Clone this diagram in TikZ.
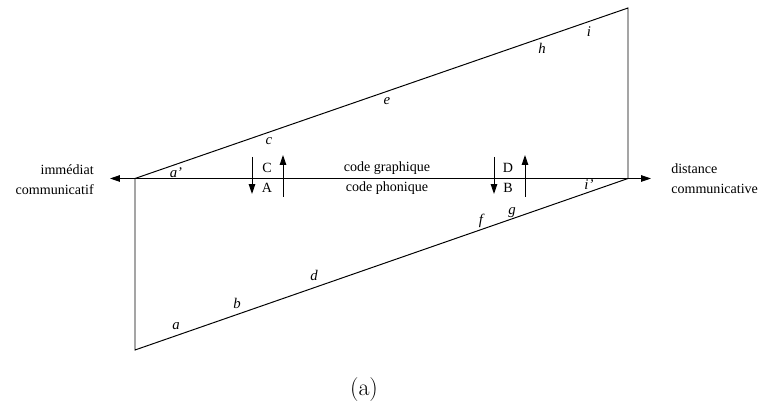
\documentclass[tikz,border=0pt]{standalone}
\usepackage{fontspec}
\newfontfamily\timesfont{Liberation Serif}
\usetikzlibrary{
  positioning,
  arrows.meta
}

\begin{document}
\begin{tikzpicture}[
  x=0.025cm, y=-0.025cm,
  edge/.style={line width=0.7pt},
  arrow/.style={-{Triangle[length=7pt, width=4.6pt]}, line width=0.7pt},
  side/.style={font=\timesfont\fontsize{10}{14}\selectfont, inner sep=0pt},
  code/.style={font=\timesfont\fontsize{10}{12}\selectfont, inner sep=0pt},
  letter/.style={font=\timesfont\itshape\fontsize{10.5}{12}\selectfont, inner sep=0pt},
  caption/.style={font=\fontsize{17}{20}\selectfont, inner sep=0pt}
]

% Background / frame
\useasboundingbox (0,0) rectangle (758,405);

% ==================== CORNERS ====================
\coordinate (ltop) at (135,178.5);
\coordinate (lbot) at (135,350);
\coordinate (rtop) at (628,8);
\coordinate (rmid) at (628,178.5);

% Axis ends
\coordinate (axl) at (110,178.5);
\coordinate (axr) at (651,178.5);

% ==================== OUTLINE ====================
\draw[edge] (ltop) -- (rtop) -- (rmid);
\draw[edge] (ltop) -- (lbot) -- (rmid);

% Axis
\draw[arrow, {Triangle[length=7pt, width=4.6pt]}-{Triangle[length=7pt, width=4.6pt]}] (axl) -- (axr);

% Side labels
\node[side, align=right, anchor=east] (immed) at (94,180) {immédiat\\communicatif};
\node[side, align=left, anchor=west] (dist) at (671,179) {distance\\communicative};

% ==================== CODES ====================
\node[code] (graph) at (387,168) {code graphique};
\node[code] (phon) at (387,188) {code phonique};

\node[code] (C) at (267,168) {C};
\node[code] (A) at (267,188) {A};
\node[code] (D) at (508,168) {D};
\node[code] (B) at (508,188) {B};

% Arrows across the axis
\coordinate (cdtop) at (252,157);
\coordinate (cdbot) at (252,194);
\coordinate (acbot) at (283,197);
\coordinate (actop) at (283,155);
\coordinate (dbtop) at (494,157);
\coordinate (dbbot) at (494,194);
\coordinate (bdbot) at (525,197);
\coordinate (bdtop) at (525,155);

\draw[arrow] (cdtop) -- (cdbot);
\draw[arrow] (acbot) -- (actop);
\draw[arrow] (dbtop) -- (dbbot);
\draw[arrow] (bdbot) -- (bdtop);

% ==================== LETTERS ====================
\node[letter] (ap) at (176,173) {a’};
\node[letter] (c) at (269,141) {c};
\node[letter] (e) at (387,101) {e};
\node[letter] (h) at (542,48) {h};
\node[letter] (i) at (589,32) {i};
\node[letter] (ip) at (589,185) {i’};
\node[letter] (g) at (512,213) {g};
\node[letter] (f) at (481,221) {f};
\node[letter] (d) at (314,275) {d};
\node[letter] (b) at (237,303) {b};
\node[letter] (a) at (176,326) {a};

% Caption
\node[caption] (cap) at (364,390) {(a)};

\end{tikzpicture}
\end{document}
